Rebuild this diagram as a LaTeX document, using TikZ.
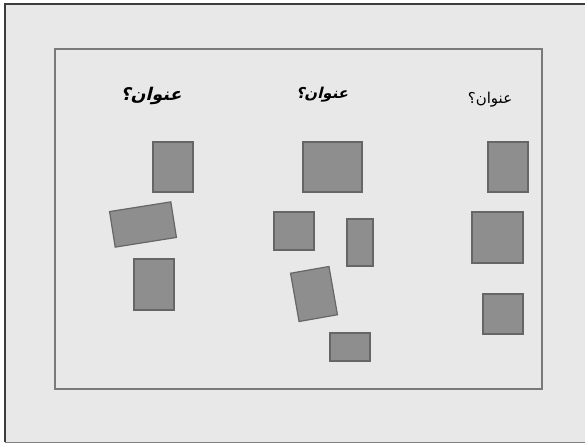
\documentclass[tikz,border=0pt]{standalone}
\usepackage{fontspec}
\TeXXeTstate=1
\newfontfamily\arabicfont[Script=Arabic]{DejaVu Sans}
\newfontfamily\arabicbi[Script=Arabic,FakeSlant=0.25]{DejaVu Sans Bold}
\definecolor{bgc}{HTML}{E8E8E8}
\definecolor{boxfill}{HTML}{8E8E8E}
\definecolor{boxline}{HTML}{666666}
\definecolor{framec}{HTML}{7A7A7A}
\definecolor{outerc}{HTML}{3C3C3C}
\tikzset{
  gbox/.style={draw=boxline, fill=boxfill, line width=1.2pt, inner sep=0pt, outer sep=0pt},
  ttl/.style={inner sep=0pt, text=black},
}
\begin{document}
\begin{tikzpicture}[x=1pt,y=-1pt]
\useasboundingbox (0,0) rectangle (585,443);
\fill[white] (0,0) rectangle (585,443);
\fill[bgc] (5,4) rectangle (585,442);
\draw[outerc, line width=1.5pt] (5,442) -- (5,4) -- (585,4);
\draw[gray, line width=0.8pt] (5,442) -- (585,442);
\draw[framec, line width=1.3pt] (55,49) rectangle (542,389);
% titles
\node[ttl, font=\arabicbi\fontsize{17.5}{20}\selectfont] (t1) at (151,96) {\beginR عنوان؟\endR};
\node[ttl, font=\arabicbi\fontsize{15}{17}\selectfont] (t2) at (322,95) {\beginR عنوان؟\endR};
\node[ttl, font=\arabicfont\fontsize{15}{17}\selectfont] (t3) at (490,100) {\beginR عنوان؟\endR};
% left column
\node[gbox, minimum width=40pt, minimum height=50pt] (l1) at (173,167) {};
\node[gbox, minimum width=62pt, minimum height=36pt, rotate=9] (l2) at (143,224.5) {};
\node[gbox, minimum width=40pt, minimum height=51pt] (l3) at (154,284.5) {};
% middle column
\node[gbox, minimum width=59pt, minimum height=50pt] (m1) at (332.5,167) {};
\node[gbox, minimum width=40pt, minimum height=38pt] (m2) at (294,231) {};
\node[gbox, minimum width=26pt, minimum height=47pt] (m3) at (360,242.5) {};
\node[gbox, minimum width=39pt, minimum height=49pt, rotate=10] (m4) at (314,294) {};
\node[gbox, minimum width=40pt, minimum height=28pt] (m5) at (350,347) {};
% right column
\node[gbox, minimum width=40pt, minimum height=50pt] (r1) at (508,167) {};
\node[gbox, minimum width=51pt, minimum height=51pt] (r2) at (497.5,237.5) {};
\node[gbox, minimum width=40pt, minimum height=40pt] (r3) at (503,314) {};
\end{tikzpicture}
\end{document}
